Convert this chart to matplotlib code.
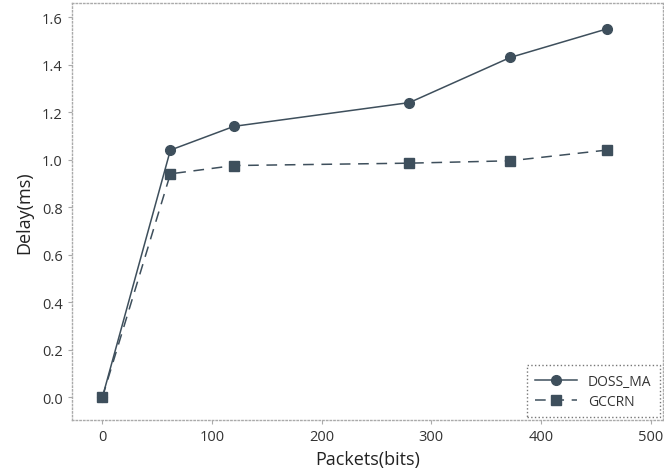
import matplotlib.pyplot as plt

# packet sizes (bits) and delay (ms)
packets = [0, 62, 120, 280, 372, 460]
doss_ma = [0.0, 1.04, 1.14, 1.24, 1.43, 1.55]
gccrn = [0.0, 0.94, 0.975, 0.985, 0.995, 1.04]

xticks = [0, 100, 200, 300, 400, 500]
yticks = [0.0, 0.2, 0.4, 0.6, 0.8, 1.0, 1.2, 1.4, 1.6]

color = "#3e4f5c"

plt.rcParams['font.family'] = ['Open Sans', 'DejaVu Sans']

fig = plt.figure(figsize=(6.64, 4.77), dpi=100)
ax = fig.add_axes([0.108, 0.117, 0.89, 0.875])

ax.plot(packets, doss_ma, color=color, linewidth=1.1, marker='o', markersize=7,
        label='DOSS_MA')
ax.plot(packets, gccrn, color=color, linewidth=1.1, linestyle=(0, (7, 5)), marker='s',
        markersize=7, label='GCCRN')

ax.set_xlim(-28, 511)
ax.set_ylim(-0.097, 1.66)
ax.set_xticks(xticks)
ax.set_yticks(yticks)
ax.set_yticklabels([f'{v:.1f}' for v in yticks])

for sp in ax.spines.values():
    sp.set_linestyle(':')
    sp.set_color('#aaaaaa')
    sp.set_linewidth(1.0)
ax.tick_params(direction='out', length=3, color='#aaaaaa', labelsize=10.5,
               labelcolor='#333333')

ax.set_xlabel('Packets(bits)', fontsize=13, color='#222222', labelpad=4)
ax.set_ylabel('Delay(ms)', fontsize=13, color='#222222', labelpad=6)

leg = ax.legend(loc='lower right', fontsize=10, frameon=True, fancybox=False,
                borderaxespad=0.2, handlelength=3, labelspacing=0.4,
                borderpad=0.6)
leg.get_frame().set_linestyle(':')
leg.get_frame().set_edgecolor('#555555')
leg.get_frame().set_linewidth(1.0)
leg.set_bbox_to_anchor((1.0, 0.0))
for t in leg.get_texts():
    t.set_color('#333333')

fig.savefig('out.png', dpi=100)
